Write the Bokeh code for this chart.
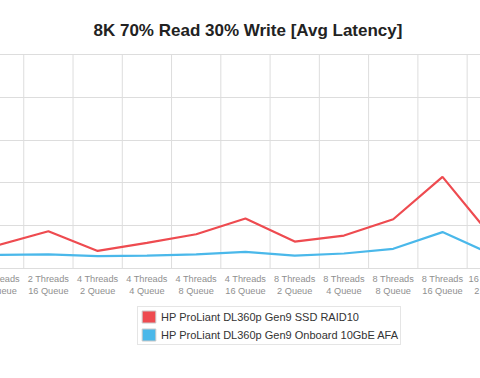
from bokeh.plotting import figure
from bokeh.models import (Range1d, FixedTicker, Legend, LegendItem, Label,
                          GlobalInlineStyleSheet)
from bokeh.core.properties import value
from bokeh.embed import file_html
from bokeh.resources import INLINE

# ---- data (y in grid units) ----
categories = ["2 Threads\n8 Queue", "2 Threads\n16 Queue", "4 Threads\n2 Queue",
              "4 Threads\n4 Queue", "4 Threads\n8 Queue", "4 Threads\n16 Queue",
              "8 Threads\n2 Queue", "8 Threads\n4 Queue", "8 Threads\n8 Queue",
              "8 Threads\n16 Queue", "16 Threads\n2 Queue"]
ssd_raid10 = [0.55, 0.87, 0.41, 0.60, 0.80, 1.17, 0.63, 0.77, 1.15, 2.14, 0.74]
onboard_afa = [0.32, 0.33, 0.29, 0.30, 0.33, 0.39, 0.30, 0.35, 0.46, 0.85, 0.33]
series_names = ["HP ProLiant DL360p Gen9 SSD RAID10",
                "HP ProLiant DL360p Gen9 Onboard 10GbE AFA"]
series_colors = ["#EE4B50", "#4AB8EA"]
y_grid_values = [0, 1, 2, 3, 4, 5]
title_text = "8K 70% Read 30% Write [Avg Latency]"

idx = list(range(len(categories)))
n = len(categories)

# The reference is a crop of a wider chart: the figure is shifted 40px to the
# left of the window and is wider than it, so the outer labels are cut off.
p = figure(width=560, height=378, output_backend="svg", toolbar_location=None,
           x_range=Range1d(-0.784, 10.583), y_range=Range1d(-2.5701, 6.2617),
           x_axis_location=None, y_axis_location=None,
           min_border_left=0, min_border_right=0,
           min_border_top=0, min_border_bottom=0)
p.stylesheets = [GlobalInlineStyleSheet(
    css="html, body { margin: 0 !important; overflow: hidden; } "
        "body { margin-left: -40px !important; }")]
p.outline_line_color = None
p.background_fill_color = "white"
p.border_fill_color = "white"

# horizontal grid
p.xgrid.visible = False
p.ygrid.ticker = FixedTicker(ticks=y_grid_values)
p.ygrid.grid_line_color = "#dddddd"
p.ygrid.grid_line_width = 1

# vertical grid lines between categories (only over the plot area)
bx = [i - 0.5 for i in range(n + 1)]
p.segment(x0=bx, y0=[min(y_grid_values)] * len(bx), x1=bx,
          y1=[max(y_grid_values)] * len(bx), line_color="#dddddd", line_width=1)

# category labels under the plot
p.text(x=idx, y=[-0.1285] * n, text=categories,
       text_font=value("Liberation Sans"), text_font_size=value("9.2px"),
       text_color="#8f8f8f", text_align="center", text_baseline="top",
       text_line_height=1.2)

# title
p.add_layout(Label(x=5.051, y=5.5607, text=title_text,
                   text_font="Liberation Sans", text_font_size="17px",
                   text_font_style="bold", text_color="#222222",
                   text_align="center", text_baseline="alphabetic"))

# lines
r1 = p.line(idx, ssd_raid10, line_color=series_colors[0], line_width=2.2)
r2 = p.line(idx, onboard_afa, line_color=series_colors[1], line_width=2.2)

# legend swatches (square boxes) - drawn off-screen, used only for legend glyphs
sw1 = p.rect(x=[-10], y=[-10], width=0.1, height=0.1,
             fill_color=series_colors[0], line_color="#c8c8c8", line_width=1)
sw2 = p.rect(x=[-10], y=[-10], width=0.1, height=0.1,
             fill_color=series_colors[1], line_color="#c8c8c8", line_width=1)

legend = Legend(items=[LegendItem(label=series_names[0], renderers=[sw1]),
                       LegendItem(label=series_names[1], renderers=[sw2])],
                location=(177, 33), orientation="vertical")
legend.label_text_font = "Liberation Sans"
legend.label_text_font_size = "11px"
legend.label_text_color = "#333333"
legend.border_line_color = "#cccccc"
legend.border_line_width = 1
legend.background_fill_color = "white"
legend.background_fill_alpha = 1
legend.padding = 2
legend.spacing = 3
legend.glyph_width = 17
legend.glyph_height = 15
legend.label_height = 15
legend.label_standoff = 4
legend.margin = 0
p.add_layout(legend)

open("out.html", "w").write(file_html(p, INLINE))
